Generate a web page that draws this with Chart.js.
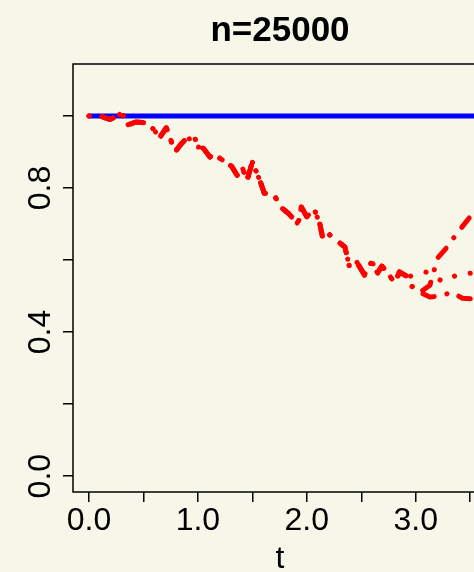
<!DOCTYPE html>
<html>
<head>
<meta charset="utf-8">
<script src="https://cdn.jsdelivr.net/npm/chart.js@4/dist/chart.umd.min.js"></script>
<style>
  html, body { margin: 0; padding: 0; background: #f7f7e9; overflow: hidden; }
  #plot { display: block; }
</style>
</head>
<body>
<canvas id="plot" width="560" height="572"></canvas>
<script>
// shared part of the red curves
const tCommon = [0, 0.10, 0.19, 0.25, 0.30, 0.36, 0.43, 0.54, 0.60, 0.65, 0.71, 0.79, 0.84, 0.88, 0.97, 1.00,
  1.05, 1.11, 1.16, 1.19, 1.25, 1.31, 1.36, 1.41, 1.45, 1.50, 1.57, 1.61, 1.69, 1.77, 1.83, 1.92, 1.95, 2.00,
  2.07, 2.12, 2.15, 2.21, 2.27, 2.35, 2.39, 2.46, 2.53, 2.55, 2.60, 2.65, 2.69, 2.74, 2.81, 2.85, 2.93];
const yCommon = [1.0, 1.0, 0.99, 0.998, 1.008, 0.975, 0.983, 0.98, 0.96, 0.94, 0.967, 0.90, 0.92, 0.933, 0.94, 0.914,
  0.91, 0.886, 0.897, 0.885, 0.872, 0.86, 0.835, 0.855, 0.82, 0.872, 0.82, 0.785, 0.785, 0.744, 0.73, 0.70, 0.747, 0.72,
  0.74, 0.70, 0.655, 0.67, 0.655, 0.636, 0.583, 0.594, 0.558, 0.58, 0.594, 0.564, 0.583, 0.564, 0.536, 0.567, 0.553];

// branches after t ~ 3
const tRise = [2.96, 3.04, 3.13, 3.20, 3.28, 3.39, 3.50, 3.62, 3.85];
const yRise = [0.528, 0.51, 0.53, 0.605, 0.633, 0.678, 0.72, 0.75, 0.78];
const tLow = [2.96, 3.04, 3.13, 3.22, 3.33, 3.43, 3.60, 3.85];
const yLow = [0.528, 0.51, 0.497, 0.50, 0.51, 0.494, 0.49, 0.49];
const tDot = [3.00, 3.09, 3.25, 3.39, 3.52, 3.70, 3.85];
const yDot = [0.56, 0.567, 0.54, 0.56, 0.564, 0.56, 0.56];

const tBlue = [0, 3.9];
const yBlue = [1, 1];

const xTicks = [0, 0.5, 1, 1.5, 2, 2.5, 3, 3.5];
const xLabels = [0, 1, 2, 3];
const yTicks = [0, 0.2, 0.4, 0.6, 0.8, 1.0];
const yLabels = [0, 0.4, 0.8];

const BG = "#f7f7e9";
const FONT = "Liberation Sans, Arial, sans-serif";

function toPoints(ts, ys) {
  return ts.map((t, i) => ({ x: t, y: ys[i] }));
}

const dotDash = [0.1, 13, 12, 13];
const dotted = [0.1, 16];

const redLine = (data, dash) => ({
  data: data,
  borderColor: "#ff0000",
  borderWidth: 5,
  borderDash: dash,
  borderCapStyle: "round",
  borderJoinStyle: "round",
  pointRadius: 0,
  tension: 0,
  order: 0
});

const frame = {
  id: "frame",
  beforeDraw(chart) {
    const c = chart.ctx;
    c.save();
    c.fillStyle = BG;
    c.fillRect(0, 0, chart.width, chart.height);
    c.restore();
  },
  afterDraw(chart) {
    const c = chart.ctx;
    const a = chart.chartArea;
    const xs = chart.scales.x;
    const ys = chart.scales.y;
    c.save();
    c.strokeStyle = "#000";
    c.lineWidth = 1.5;
    c.strokeRect(a.left, a.top, a.right - a.left, a.bottom - a.top);

    c.fillStyle = "#000";
    c.font = "32px " + FONT;
    c.textAlign = "center";
    c.textBaseline = "alphabetic";
    xLabels.forEach(v => {
      c.fillText(v.toFixed(1), xs.getPixelForValue(v), 530);
    });
    yLabels.forEach(v => {
      c.save();
      c.translate(50, ys.getPixelForValue(v));
      c.rotate(-Math.PI / 2);
      c.fillText(v.toFixed(1), 0, 0);
      c.restore();
    });
    c.fillText("t", 280, 568);

    c.font = "bold 35px " + FONT;
    c.fillText("n=25000", 280, 41);
    c.restore();
  }
};

new Chart(document.getElementById("plot"), {
  type: "line",
  data: {
    datasets: [
      {
        data: toPoints(tBlue, yBlue),
        borderColor: "#0000ff",
        borderWidth: 5,
        pointRadius: 0,
        order: 10
      },
      redLine(toPoints(tCommon.concat(tRise), yCommon.concat(yRise)), dotDash),
      redLine(toPoints(tCommon.concat(tLow), yCommon.concat(yLow)), dotDash),
      redLine(toPoints(tCommon.concat(tDot), yCommon.concat(yDot)), dotted)
    ]
  },
  plugins: [frame],
  options: {
    responsive: false,
    animation: false,
    events: [],
    layout: { padding: { left: 0, top: 64, right: 55, bottom: 0 } },
    plugins: {
      legend: { display: false },
      title: { display: false },
      tooltip: { enabled: false }
    },
    scales: {
      x: {
        type: "linear",
        min: -0.147,
        max: 3.82,
        afterBuildTicks: s => { s.ticks = xTicks.map(v => ({ value: v })); },
        afterFit: s => { s.height = 80; },
        ticks: { display: false },
        border: { display: false },
        grid: { drawOnChartArea: false, tickLength: 10, color: "#000", lineWidth: 1.5 }
      },
      y: {
        type: "linear",
        min: -0.044,
        max: 1.144,
        afterBuildTicks: s => { s.ticks = yTicks.map(v => ({ value: v })); },
        afterFit: s => { s.width = 73; },
        ticks: { display: false },
        border: { display: false },
        grid: { drawOnChartArea: false, tickLength: 10, color: "#000", lineWidth: 1.5 }
      }
    }
  }
});
</script>
</body>
</html>
